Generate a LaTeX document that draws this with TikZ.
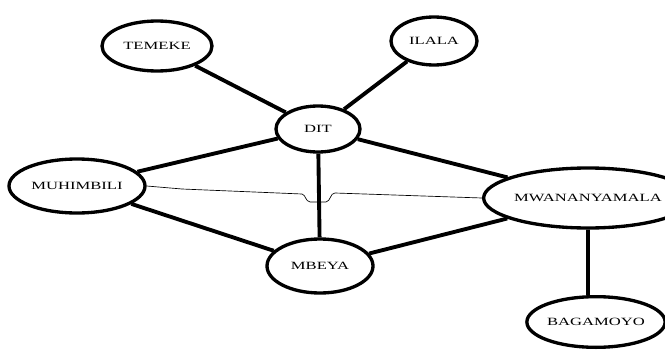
\documentclass[tikz,border=0pt]{standalone}
\usepackage{fontspec}
\newfontfamily\sitefont[FakeStretch=1.5]{Liberation Serif}
\usetikzlibrary{shapes.geometric}

\begin{document}
\begin{tikzpicture}[x=0.75pt,y=-0.75pt,
    site/.style={draw,ellipse,line width=2.5pt,inner sep=0pt,
        font=\sitefont\fontsize{8.3}{10}\selectfont},
    link/.style={line width=2.9pt},
    wire/.style={line width=0.5pt}]
    \useasboundingbox (0,0) rectangle (665,350);
    \node[site,minimum width=82.5pt,minimum height=37.5pt] (temeke) at (157,46) {TEMEKE};
    \node[site,minimum width=64.5pt,minimum height=36pt] (ilala) at (434,41) {ILALA};
    \node[site,minimum width=63pt,minimum height=34.5pt] (dit) at (318,129) {DIT};
    \node[site,minimum width=102pt,minimum height=40.5pt] (muhimbili) at (77,186) {MUHIMBILI};
    \node[site,minimum width=156pt,minimum height=45pt] (mwananyamala) at (588,198) {MWANANYAMALA};
    \node[site,minimum width=79.5pt,minimum height=40.5pt] (mbeya) at (320,266) {MBEYA};
    \node[site,minimum width=99pt,minimum height=38pt] (bagamoyo) at (596,322) {BAGAMOYO};
    \draw[link]
        (temeke) -- (dit)
        (ilala) -- (dit)
        (dit) -- (muhimbili)
        (dit) -- (mbeya)
        (dit) -- (mwananyamala)
        (muhimbili) -- (mbeya)
        (mbeya) -- (mwananyamala)
        (mwananyamala.south) -- (mwananyamala.south |- bagamoyo.north)
    ;
    % thin line with a dip where it passes the DIT--MBEYA line
    \draw[wire]
        (muhimbili.east) -- (182,189) -- (302,194)
        .. controls (306,195) and (305,201) .. (310,202) -- (326,202)
        .. controls (331,201) and (330,193) .. (335,193) -- (mwananyamala.west)
    ;
\end{tikzpicture}
\end{document}
